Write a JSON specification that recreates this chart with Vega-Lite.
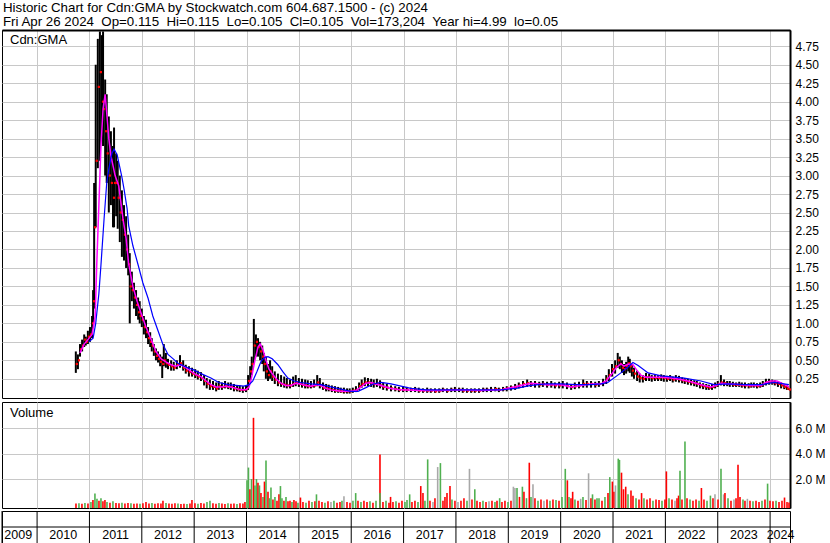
{
"$schema": "https://vega.github.io/schema/vega-lite/v6.json",
"padding": {"left": 1, "top": 0, "right": 0, "bottom": 0},
"background": "white",
"title": {"text": ["Historic Chart for Cdn:GMA by Stockwatch.com 604.687.1500 - (c) 2024", "Fri Apr 26 2024\u00a0 Op=0.115\u00a0 Hi=0.115\u00a0 Lo=0.105\u00a0 Cl=0.105\u00a0 Vol=173,204\u00a0 Year hi=4.99\u00a0 lo=0.05"], "anchor": "start", "frame": "bounds", "fontSize": 13.3, "fontWeight": "normal", "font": "Liberation Sans", "color": "black", "lineHeight": 14.5, "offset": 1, "dx": 2},
"config": {"view": {"stroke": "black", "strokeWidth": 1}, "font": "Liberation Sans", "axis": {"labelFont": "Liberation Sans", "labelColor": "black", "gridColor": "#c8c8c8", "gridOpacity": 1}},
"datasets": {
"px": [
{"t":2010.74,"h":0.62,"l":0.33,"c":0.45},{"t":2010.78,"h":0.58,"l":0.38,"c":0.5},{"t":2010.82,"h":0.72,"l":0.55,"c":0.65},{"t":2010.86,"h":0.78,"l":0.62,"c":0.7},{"t":2010.90,"h":0.85,"l":0.68,"c":0.78},{"t":2010.93,"h":0.82,"l":0.7,"c":0.75},{"t":2010.97,"h":0.9,"l":0.72,"c":0.82},{"t":2011.01,"h":0.95,"l":0.75,"c":0.85},{"t":2011.05,"h":1.1,"l":0.8,"c":1.0},{"t":2011.07,"h":1.45,"l":0.95,"c":1.3},
{"t":2011.09,"h":2.9,"l":1.2,"c":2.3},{"t":2011.12,"h":4.5,"l":2.3,"c":3.2},{"t":2011.16,"h":4.85,"l":3.1,"c":4.2},{"t":2011.20,"h":4.95,"l":3.2,"c":4.4},{"t":2011.24,"h":4.9,"l":3.5,"c":4.0},{"t":2011.26,"h":4.95,"l":3.4,"c":3.9},{"t":2011.30,"h":4.3,"l":3.0,"c":3.6},{"t":2011.33,"h":4.1,"l":2.9,"c":3.3},{"t":2011.37,"h":3.8,"l":2.5,"c":3.0},{"t":2011.41,"h":3.6,"l":2.6,"c":2.9},
{"t":2011.45,"h":3.4,"l":2.3,"c":2.7},{"t":2011.47,"h":3.65,"l":2.3,"c":2.9},{"t":2011.51,"h":3.3,"l":2.45,"c":2.9},{"t":2011.54,"h":3.2,"l":2.28,"c":2.7},{"t":2011.58,"h":3.0,"l":2.1,"c":2.5},{"t":2011.62,"h":2.8,"l":1.9,"c":2.4},{"t":2011.66,"h":2.6,"l":1.85,"c":2.2},{"t":2011.70,"h":2.45,"l":1.75,"c":2.0},{"t":2011.74,"h":2.2,"l":1.65,"c":1.8},{"t":2011.77,"h":1.95,"l":1.0,"c":1.5},
{"t":2011.81,"h":1.7,"l":1.3,"c":1.45},{"t":2011.85,"h":1.55,"l":1.2,"c":1.35},{"t":2011.89,"h":1.45,"l":1.1,"c":1.25},{"t":2011.93,"h":1.35,"l":1.05,"c":1.15},{"t":2011.96,"h":1.3,"l":1.0,"c":1.1},{"t":2012.00,"h":1.2,"l":0.95,"c":1.05},{"t":2012.04,"h":1.1,"l":0.85,"c":0.95},{"t":2012.08,"h":1.05,"l":0.8,"c":0.88},{"t":2012.12,"h":0.95,"l":0.72,"c":0.8},{"t":2012.16,"h":0.88,"l":0.68,"c":0.75},
{"t":2012.19,"h":0.8,"l":0.62,"c":0.7},{"t":2012.23,"h":0.72,"l":0.56,"c":0.62},{"t":2012.27,"h":0.66,"l":0.5,"c":0.56},{"t":2012.31,"h":0.62,"l":0.47,"c":0.52},{"t":2012.35,"h":0.58,"l":0.42,"c":0.48},{"t":2012.39,"h":0.55,"l":0.26,"c":0.45},{"t":2012.42,"h":0.72,"l":0.42,"c":0.5},{"t":2012.46,"h":0.6,"l":0.4,"c":0.46},{"t":2012.50,"h":0.52,"l":0.38,"c":0.44},{"t":2012.56,"h":0.5,"l":0.36,"c":0.42},
{"t":2012.61,"h":0.48,"l":0.36,"c":0.4},{"t":2012.67,"h":0.5,"l":0.38,"c":0.44},{"t":2012.73,"h":0.57,"l":0.4,"c":0.46},{"t":2012.79,"h":0.5,"l":0.36,"c":0.4},{"t":2012.84,"h":0.44,"l":0.32,"c":0.36},{"t":2012.90,"h":0.42,"l":0.28,"c":0.34},{"t":2012.96,"h":0.4,"l":0.28,"c":0.32},{"t":2013.02,"h":0.38,"l":0.26,"c":0.3},{"t":2013.07,"h":0.36,"l":0.24,"c":0.28},{"t":2013.13,"h":0.34,"l":0.22,"c":0.26},
{"t":2013.19,"h":0.3,"l":0.16,"c":0.22},{"t":2013.24,"h":0.26,"l":0.12,"c":0.18},{"t":2013.30,"h":0.24,"l":0.1,"c":0.15},{"t":2013.36,"h":0.22,"l":0.1,"c":0.14},{"t":2013.42,"h":0.2,"l":0.08,"c":0.12},{"t":2013.47,"h":0.22,"l":0.1,"c":0.15},{"t":2013.53,"h":0.2,"l":0.1,"c":0.14},{"t":2013.59,"h":0.22,"l":0.12,"c":0.15},{"t":2013.65,"h":0.2,"l":0.11,"c":0.14},{"t":2013.70,"h":0.2,"l":0.1,"c":0.14},
{"t":2013.76,"h":0.18,"l":0.08,"c":0.12},{"t":2013.82,"h":0.16,"l":0.08,"c":0.11},{"t":2013.87,"h":0.16,"l":0.07,"c":0.1},{"t":2013.93,"h":0.15,"l":0.06,"c":0.1},{"t":2013.99,"h":0.16,"l":0.07,"c":0.11},{"t":2014.03,"h":0.3,"l":0.1,"c":0.22},{"t":2014.07,"h":0.42,"l":0.2,"c":0.35},{"t":2014.10,"h":0.55,"l":0.3,"c":0.45},{"t":2014.14,"h":1.06,"l":0.45,"c":0.7},{"t":2014.18,"h":0.85,"l":0.55,"c":0.75},
{"t":2014.22,"h":0.8,"l":0.55,"c":0.68},{"t":2014.26,"h":0.75,"l":0.5,"c":0.62},{"t":2014.30,"h":0.7,"l":0.45,"c":0.55},{"t":2014.33,"h":0.6,"l":0.35,"c":0.45},{"t":2014.37,"h":0.55,"l":0.25,"c":0.35},{"t":2014.41,"h":0.45,"l":0.22,"c":0.3},{"t":2014.45,"h":0.5,"l":0.25,"c":0.35},{"t":2014.49,"h":0.42,"l":0.22,"c":0.28},{"t":2014.54,"h":0.35,"l":0.18,"c":0.24},{"t":2014.60,"h":0.32,"l":0.15,"c":0.2},
{"t":2014.66,"h":0.3,"l":0.14,"c":0.18},{"t":2014.72,"h":0.28,"l":0.13,"c":0.17},{"t":2014.77,"h":0.26,"l":0.12,"c":0.16},{"t":2014.83,"h":0.24,"l":0.12,"c":0.16},{"t":2014.89,"h":0.28,"l":0.14,"c":0.18},{"t":2014.94,"h":0.3,"l":0.15,"c":0.2},{"t":2015.00,"h":0.26,"l":0.14,"c":0.18},{"t":2015.06,"h":0.25,"l":0.13,"c":0.17},{"t":2015.12,"h":0.24,"l":0.12,"c":0.16},{"t":2015.17,"h":0.23,"l":0.12,"c":0.15},
{"t":2015.23,"h":0.22,"l":0.12,"c":0.15},{"t":2015.29,"h":0.24,"l":0.13,"c":0.16},{"t":2015.35,"h":0.3,"l":0.15,"c":0.2},{"t":2015.40,"h":0.26,"l":0.12,"c":0.16},{"t":2015.46,"h":0.2,"l":0.1,"c":0.13},{"t":2015.52,"h":0.18,"l":0.08,"c":0.12},{"t":2015.57,"h":0.17,"l":0.08,"c":0.11},{"t":2015.63,"h":0.16,"l":0.07,"c":0.1},{"t":2015.69,"h":0.15,"l":0.06,"c":0.09},{"t":2015.75,"h":0.14,"l":0.06,"c":0.09},
{"t":2015.80,"h":0.13,"l":0.06,"c":0.08},{"t":2015.86,"h":0.13,"l":0.05,"c":0.08},{"t":2015.92,"h":0.12,"l":0.05,"c":0.08},{"t":2015.97,"h":0.12,"l":0.05,"c":0.08},{"t":2016.03,"h":0.13,"l":0.06,"c":0.09},{"t":2016.09,"h":0.15,"l":0.07,"c":0.1},{"t":2016.15,"h":0.2,"l":0.1,"c":0.15},{"t":2016.20,"h":0.24,"l":0.13,"c":0.18},{"t":2016.26,"h":0.27,"l":0.15,"c":0.2},{"t":2016.32,"h":0.26,"l":0.15,"c":0.2},
{"t":2016.38,"h":0.25,"l":0.14,"c":0.19},{"t":2016.43,"h":0.24,"l":0.13,"c":0.18},{"t":2016.49,"h":0.25,"l":0.14,"c":0.18},{"t":2016.55,"h":0.23,"l":0.12,"c":0.16},{"t":2016.61,"h":0.2,"l":0.1,"c":0.14},{"t":2016.68,"h":0.18,"l":0.09,"c":0.13},{"t":2016.76,"h":0.16,"l":0.08,"c":0.12},{"t":2016.84,"h":0.15,"l":0.08,"c":0.11},{"t":2016.91,"h":0.14,"l":0.07,"c":0.1},{"t":2016.99,"h":0.15,"l":0.07,"c":0.1},
{"t":2017.06,"h":0.14,"l":0.07,"c":0.1},{"t":2017.14,"h":0.13,"l":0.07,"c":0.1},{"t":2017.22,"h":0.14,"l":0.07,"c":0.1},{"t":2017.29,"h":0.13,"l":0.06,"c":0.09},{"t":2017.37,"h":0.12,"l":0.06,"c":0.09},{"t":2017.45,"h":0.13,"l":0.06,"c":0.09},{"t":2017.52,"h":0.12,"l":0.06,"c":0.09},{"t":2017.60,"h":0.12,"l":0.06,"c":0.08},{"t":2017.68,"h":0.12,"l":0.06,"c":0.09},{"t":2017.75,"h":0.13,"l":0.07,"c":0.1},
{"t":2017.83,"h":0.12,"l":0.06,"c":0.09},{"t":2017.91,"h":0.13,"l":0.07,"c":0.1},{"t":2017.98,"h":0.14,"l":0.07,"c":0.1},{"t":2018.06,"h":0.13,"l":0.07,"c":0.1},{"t":2018.13,"h":0.13,"l":0.06,"c":0.09},{"t":2018.21,"h":0.12,"l":0.06,"c":0.09},{"t":2018.29,"h":0.12,"l":0.06,"c":0.09},{"t":2018.36,"h":0.12,"l":0.06,"c":0.09},{"t":2018.44,"h":0.12,"l":0.06,"c":0.09},{"t":2018.52,"h":0.13,"l":0.07,"c":0.1},
{"t":2018.59,"h":0.13,"l":0.07,"c":0.1},{"t":2018.67,"h":0.14,"l":0.07,"c":0.1},{"t":2018.75,"h":0.14,"l":0.08,"c":0.11},{"t":2018.82,"h":0.13,"l":0.07,"c":0.1},{"t":2018.90,"h":0.14,"l":0.08,"c":0.11},{"t":2018.97,"h":0.15,"l":0.08,"c":0.12},{"t":2019.05,"h":0.16,"l":0.09,"c":0.13},{"t":2019.13,"h":0.18,"l":0.1,"c":0.14},{"t":2019.20,"h":0.2,"l":0.12,"c":0.16},{"t":2019.28,"h":0.22,"l":0.13,"c":0.18},
{"t":2019.36,"h":0.24,"l":0.14,"c":0.19},{"t":2019.43,"h":0.22,"l":0.14,"c":0.18},{"t":2019.51,"h":0.22,"l":0.13,"c":0.18},{"t":2019.59,"h":0.21,"l":0.13,"c":0.17},{"t":2019.66,"h":0.22,"l":0.14,"c":0.18},{"t":2019.74,"h":0.21,"l":0.13,"c":0.17},{"t":2019.82,"h":0.22,"l":0.13,"c":0.17},{"t":2019.89,"h":0.2,"l":0.12,"c":0.16},{"t":2019.97,"h":0.21,"l":0.12,"c":0.16},{"t":2020.04,"h":0.22,"l":0.12,"c":0.17},
{"t":2020.12,"h":0.2,"l":0.11,"c":0.15},{"t":2020.20,"h":0.18,"l":0.1,"c":0.14},{"t":2020.27,"h":0.2,"l":0.11,"c":0.15},{"t":2020.35,"h":0.21,"l":0.12,"c":0.16},{"t":2020.43,"h":0.24,"l":0.13,"c":0.18},{"t":2020.50,"h":0.22,"l":0.13,"c":0.18},{"t":2020.58,"h":0.22,"l":0.13,"c":0.18},{"t":2020.66,"h":0.21,"l":0.13,"c":0.17},{"t":2020.73,"h":0.22,"l":0.14,"c":0.18},{"t":2020.81,"h":0.25,"l":0.15,"c":0.2},
{"t":2020.87,"h":0.3,"l":0.18,"c":0.25},{"t":2020.92,"h":0.38,"l":0.22,"c":0.3},{"t":2020.98,"h":0.45,"l":0.28,"c":0.38},{"t":2021.04,"h":0.5,"l":0.32,"c":0.42},{"t":2021.09,"h":0.6,"l":0.4,"c":0.5},{"t":2021.13,"h":0.55,"l":0.38,"c":0.45},{"t":2021.17,"h":0.5,"l":0.33,"c":0.4},{"t":2021.21,"h":0.45,"l":0.3,"c":0.38},{"t":2021.25,"h":0.48,"l":0.32,"c":0.42},{"t":2021.29,"h":0.55,"l":0.35,"c":0.46},
{"t":2021.32,"h":0.52,"l":0.33,"c":0.42},{"t":2021.36,"h":0.45,"l":0.28,"c":0.36},{"t":2021.40,"h":0.4,"l":0.25,"c":0.32},{"t":2021.46,"h":0.36,"l":0.22,"c":0.28},{"t":2021.51,"h":0.32,"l":0.2,"c":0.26},{"t":2021.57,"h":0.3,"l":0.2,"c":0.25},{"t":2021.63,"h":0.33,"l":0.22,"c":0.27},{"t":2021.69,"h":0.32,"l":0.22,"c":0.27},{"t":2021.74,"h":0.3,"l":0.21,"c":0.26},{"t":2021.80,"h":0.3,"l":0.22,"c":0.26},
{"t":2021.86,"h":0.3,"l":0.22,"c":0.26},{"t":2021.92,"h":0.31,"l":0.22,"c":0.27},{"t":2021.97,"h":0.3,"l":0.21,"c":0.26},{"t":2022.03,"h":0.29,"l":0.21,"c":0.25},{"t":2022.09,"h":0.3,"l":0.22,"c":0.26},{"t":2022.14,"h":0.28,"l":0.2,"c":0.24},{"t":2022.20,"h":0.3,"l":0.21,"c":0.25},{"t":2022.26,"h":0.29,"l":0.2,"c":0.24},{"t":2022.32,"h":0.27,"l":0.19,"c":0.23},{"t":2022.37,"h":0.26,"l":0.18,"c":0.22},
{"t":2022.43,"h":0.25,"l":0.17,"c":0.21},{"t":2022.49,"h":0.24,"l":0.16,"c":0.2},{"t":2022.55,"h":0.23,"l":0.15,"c":0.19},{"t":2022.60,"h":0.22,"l":0.14,"c":0.18},{"t":2022.66,"h":0.2,"l":0.12,"c":0.16},{"t":2022.72,"h":0.19,"l":0.11,"c":0.15},{"t":2022.78,"h":0.18,"l":0.1,"c":0.14},{"t":2022.83,"h":0.17,"l":0.1,"c":0.13},{"t":2022.89,"h":0.18,"l":0.1,"c":0.14},{"t":2022.95,"h":0.2,"l":0.12,"c":0.16},
{"t":2023.00,"h":0.22,"l":0.14,"c":0.18},{"t":2023.06,"h":0.3,"l":0.16,"c":0.2},{"t":2023.12,"h":0.24,"l":0.15,"c":0.19},{"t":2023.18,"h":0.22,"l":0.15,"c":0.18},{"t":2023.23,"h":0.22,"l":0.14,"c":0.18},{"t":2023.29,"h":0.21,"l":0.14,"c":0.17},{"t":2023.35,"h":0.2,"l":0.14,"c":0.17},{"t":2023.41,"h":0.21,"l":0.14,"c":0.17},{"t":2023.46,"h":0.2,"l":0.13,"c":0.16},{"t":2023.52,"h":0.2,"l":0.12,"c":0.16},
{"t":2023.59,"h":0.19,"l":0.12,"c":0.15},{"t":2023.64,"h":0.2,"l":0.13,"c":0.16},{"t":2023.69,"h":0.2,"l":0.13,"c":0.16},{"t":2023.75,"h":0.19,"l":0.12,"c":0.15},{"t":2023.81,"h":0.2,"l":0.13,"c":0.16},{"t":2023.86,"h":0.22,"l":0.14,"c":0.18},{"t":2023.92,"h":0.25,"l":0.16,"c":0.2},{"t":2023.98,"h":0.25,"l":0.17,"c":0.21},{"t":2024.04,"h":0.24,"l":0.17,"c":0.2},{"t":2024.09,"h":0.23,"l":0.16,"c":0.19},
{"t":2024.15,"h":0.22,"l":0.14,"c":0.18},{"t":2024.21,"h":0.2,"l":0.12,"c":0.16},{"t":2024.27,"h":0.18,"l":0.11,"c":0.14},{"t":2024.32,"h":0.16,"l":0.1,"c":0.12},{"t":2024.36,"h":0.115,"l":0.1,"c":0.105}
],
"mg": [
{"t":2010.82,"v":0.6},{"t":2010.90,"v":0.72},{"t":2010.97,"v":0.78},{"t":2011.05,"v":0.85},{"t":2011.11,"v":1.1},{"t":2011.14,"v":1.8},{"t":2011.18,"v":2.6},{"t":2011.22,"v":3.4},{"t":2011.26,"v":3.9},{"t":2011.30,"v":4.1},{"t":2011.33,"v":3.85},{"t":2011.37,"v":3.5},{"t":2011.41,"v":3.27},{"t":2011.49,"v":3.0},{"t":2011.56,"v":2.86},{"t":2011.64,"v":2.42},{"t":2011.70,"v":2.15},{"t":2011.75,"v":1.8},{"t":2011.83,"v":1.5},{"t":2011.91,"v":1.3},{"t":2011.98,"v":1.15},{"t":2012.08,"v":0.95},{"t":2012.18,"v":0.78},{"t":2012.27,"v":0.62},{"t":2012.37,"v":0.52},{"t":2012.46,"v":0.48},{"t":2012.56,"v":0.44},{"t":2012.65,"v":0.42},{"t":2012.75,"v":0.44},{"t":2012.84,"v":0.4},{"t":2012.94,"v":0.35},{"t":2013.03,"v":0.31},{"t":2013.13,"v":0.28},{"t":2013.23,"v":0.22},{"t":2013.32,"v":0.17},{"t":2013.42,"v":0.14},{"t":2013.51,"v":0.14},{"t":2013.61,"v":0.15},{"t":2013.70,"v":0.14},{"t":2013.80,"v":0.12},{"t":2013.89,"v":0.1},{"t":2013.99,"v":0.1},{"t":2014.05,"v":0.14},{"t":2014.10,"v":0.28},{"t":2014.16,"v":0.5},{"t":2014.22,"v":0.68},{"t":2014.26,"v":0.72},{"t":2014.31,"v":0.65},{"t":2014.37,"v":0.5},{"t":2014.43,"v":0.38},{"t":2014.51,"v":0.3},{"t":2014.58,"v":0.24},{"t":2014.66,"v":0.19},{"t":2014.75,"v":0.16},{"t":2014.85,"v":0.16},{"t":2014.94,"v":0.19},{"t":2015.04,"v":0.18},{"t":2015.14,"v":0.16},{"t":2015.23,"v":0.15},{"t":2015.33,"v":0.17},{"t":2015.42,"v":0.16},{"t":2015.52,"v":0.12},{"t":2015.61,"v":0.1},{"t":2015.71,"v":0.09},{"t":2015.80,"v":0.08},{"t":2015.90,"v":0.08},{"t":2015.99,"v":0.08},{"t":2016.09,"v":0.09},{"t":2016.19,"v":0.14},{"t":2016.28,"v":0.19},{"t":2016.38,"v":0.2},{"t":2016.47,"v":0.18},{"t":2016.57,"v":0.16},{"t":2016.76,"v":0.12},{"t":2016.95,"v":0.1},{"t":2017.33,"v":0.09},{"t":2017.71,"v":0.09},{"t":2018.10,"v":0.1},{"t":2018.48,"v":0.09},{"t":2018.86,"v":0.1},{"t":2019.05,"v":0.13},{"t":2019.24,"v":0.16},{"t":2019.43,"v":0.19},{"t":2019.72,"v":0.17},{"t":2020.01,"v":0.17},{"t":2020.20,"v":0.14},{"t":2020.39,"v":0.16},{"t":2020.58,"v":0.18},{"t":2020.77,"v":0.18},{"t":2020.87,"v":0.22},{"t":2020.96,"v":0.3},{"t":2021.06,"v":0.4},{"t":2021.15,"v":0.45},{"t":2021.21,"v":0.42},{"t":2021.29,"v":0.45},{"t":2021.38,"v":0.44},{"t":2021.46,"v":0.36},{"t":2021.53,"v":0.3},{"t":2021.63,"v":0.27},{"t":2021.72,"v":0.27},{"t":2021.92,"v":0.27},{"t":2022.11,"v":0.26},{"t":2022.30,"v":0.24},{"t":2022.49,"v":0.21},{"t":2022.68,"v":0.17},{"t":2022.87,"v":0.14},{"t":2022.97,"v":0.16},{"t":2023.06,"v":0.19},{"t":2023.25,"v":0.18},{"t":2023.44,"v":0.17},{"t":2023.64,"v":0.16},{"t":2023.83,"v":0.16},{"t":2023.92,"v":0.2},{"t":2024.02,"v":0.22},{"t":2024.13,"v":0.22},{"t":2024.25,"v":0.18},{"t":2024.36,"v":0.14}
],
"bl": [
{"t":2010.99,"v":0.75},{"t":2011.07,"v":0.8},{"t":2011.12,"v":1.0},{"t":2011.18,"v":1.4},{"t":2011.22,"v":1.79},{"t":2011.28,"v":2.42},{"t":2011.33,"v":2.9},{"t":2011.37,"v":3.09},{"t":2011.43,"v":3.3},{"t":2011.47,"v":3.36},{"t":2011.53,"v":3.28},{"t":2011.56,"v":3.18},{"t":2011.62,"v":2.98},{"t":2011.66,"v":2.82},{"t":2011.72,"v":2.55},{"t":2011.75,"v":2.32},{"t":2011.83,"v":2.05},{"t":2011.93,"v":1.79},{"t":2012.02,"v":1.55},{"t":2012.12,"v":1.34},{"t":2012.21,"v":1.1},{"t":2012.31,"v":0.9},{"t":2012.40,"v":0.72},{"t":2012.50,"v":0.58},{"t":2012.60,"v":0.52},{"t":2012.69,"v":0.46},{"t":2012.84,"v":0.41},{"t":2012.99,"v":0.37},{"t":2013.13,"v":0.32},{"t":2013.32,"v":0.26},{"t":2013.47,"v":0.2},{"t":2013.65,"v":0.17},{"t":2013.80,"v":0.16},{"t":2013.95,"v":0.15},{"t":2014.05,"v":0.17},{"t":2014.12,"v":0.22},{"t":2014.20,"v":0.35},{"t":2014.28,"v":0.49},{"t":2014.35,"v":0.54},{"t":2014.41,"v":0.55},{"t":2014.49,"v":0.52},{"t":2014.60,"v":0.44},{"t":2014.70,"v":0.34},{"t":2014.79,"v":0.26},{"t":2014.91,"v":0.22},{"t":2015.04,"v":0.2},{"t":2015.23,"v":0.18},{"t":2015.42,"v":0.17},{"t":2015.61,"v":0.14},{"t":2015.80,"v":0.11},{"t":2015.99,"v":0.08},{"t":2016.13,"v":0.08},{"t":2016.28,"v":0.13},{"t":2016.42,"v":0.18},{"t":2016.57,"v":0.2},{"t":2016.76,"v":0.18},{"t":2016.95,"v":0.15},{"t":2017.14,"v":0.12},{"t":2017.43,"v":0.1},{"t":2017.71,"v":0.1},{"t":2018.10,"v":0.1},{"t":2018.48,"v":0.1},{"t":2018.86,"v":0.1},{"t":2019.15,"v":0.12},{"t":2019.43,"v":0.16},{"t":2019.72,"v":0.18},{"t":2020.01,"v":0.18},{"t":2020.29,"v":0.17},{"t":2020.58,"v":0.17},{"t":2020.77,"v":0.18},{"t":2020.90,"v":0.2},{"t":2021.15,"v":0.33},{"t":2021.27,"v":0.4},{"t":2021.38,"v":0.47},{"t":2021.48,"v":0.43},{"t":2021.67,"v":0.33},{"t":2021.92,"v":0.29},{"t":2022.36,"v":0.26},{"t":2022.68,"v":0.22},{"t":2022.93,"v":0.17},{"t":2023.20,"v":0.18},{"t":2023.54,"v":0.17},{"t":2023.83,"v":0.17},{"t":2024.07,"v":0.2},{"t":2024.36,"v":0.17}
],
"vol": [
{"t":2010.743,"v":0.08,"k":"d"},{"t":2010.800,"v":0.1,"k":"u"},{"t":2010.857,"v":0.06,"k":"d"},{"t":2010.914,"v":0.12,"k":"u"},{"t":2010.972,"v":0.08,"k":"d"},{"t":2011.029,"v":0.2,"k":"u"},{"t":2011.067,"v":0.35,"k":"d"},{"t":2011.105,"v":0.86,"k":"u"},{"t":2011.144,"v":0.45,"k":"u"},{"t":2011.182,"v":0.3,"k":"d"},{"t":2011.220,"v":0.5,"k":"u"},{"t":2011.258,"v":0.25,"k":"d"},{"t":2011.296,"v":0.35,"k":"d"},{"t":2011.335,"v":0.2,"k":"u"},{"t":2011.392,"v":0.15,"k":"d"},{"t":2011.449,"v":0.25,"k":"u"},{"t":2011.507,"v":0.12,"k":"d"},{"t":2011.564,"v":0.1,"k":"d"},{"t":2011.621,"v":0.15,"k":"u"},{"t":2011.678,"v":0.08,"k":"d"},{"t":2011.736,"v":0.12,"k":"d"},{"t":2011.793,"v":0.1,"k":"u"},{"t":2011.850,"v":0.07,"k":"d"},{"t":2011.908,"v":0.08,"k":"d"},{"t":2011.965,"v":0.06,"k":"u"},{"t":2012.022,"v":0.1,"k":"d"},{"t":2012.080,"v":0.2,"k":"d"},{"t":2012.137,"v":0.08,"k":"d"},{"t":2012.194,"v":0.12,"k":"u"},{"t":2012.251,"v":0.06,"k":"d"},{"t":2012.309,"v":0.1,"k":"d"},{"t":2012.366,"v":0.08,"k":"d"},{"t":2012.404,"v":0.3,"k":"d"},{"t":2012.462,"v":0.12,"k":"u"},{"t":2012.519,"v":0.08,"k":"d"},{"t":2012.576,"v":0.06,"k":"d"},{"t":2012.633,"v":0.1,"k":"d"},{"t":2012.691,"v":0.08,"k":"u"},{"t":2012.748,"v":0.05,"k":"d"},{"t":2012.805,"v":0.07,"k":"d"},{"t":2012.863,"v":0.05,"k":"u"},{"t":2012.920,"v":0.08,"k":"d"},{"t":2012.958,"v":0.35,"k":"d"},{"t":2013.015,"v":0.1,"k":"d"},{"t":2013.073,"v":0.06,"k":"u"},{"t":2013.130,"v":0.12,"k":"d"},{"t":2013.187,"v":0.08,"k":"d"},{"t":2013.245,"v":0.2,"k":"u"},{"t":2013.302,"v":0.3,"k":"u"},{"t":2013.359,"v":0.1,"k":"d"},{"t":2013.417,"v":0.06,"k":"d"},{"t":2013.474,"v":0.12,"k":"u"},{"t":2013.531,"v":0.08,"k":"d"},{"t":2013.588,"v":0.05,"k":"d"},{"t":2013.646,"v":0.1,"k":"u"},{"t":2013.703,"v":0.06,"k":"d"},{"t":2013.760,"v":0.08,"k":"d"},{"t":2013.818,"v":0.05,"k":"u"},{"t":2013.875,"v":0.1,"k":"d"},{"t":2013.932,"v":0.08,"k":"d"},{"t":2013.970,"v":0.2,"k":"d"},
{"t":2014.009,"v":1.9,"k":"u"},{"t":2014.037,"v":2.9,"k":"u"},{"t":2014.066,"v":1.2,"k":"d"},{"t":2014.095,"v":2.0,"k":"u"},{"t":2014.133,"v":6.8,"k":"d"},{"t":2014.161,"v":1.5,"k":"u"},{"t":2014.190,"v":2.0,"k":"u"},{"t":2014.219,"v":1.7,"k":"d"},{"t":2014.247,"v":1.5,"k":"u"},{"t":2014.276,"v":0.9,"k":"d"},{"t":2014.314,"v":0.6,"k":"u"},{"t":2014.343,"v":1.8,"k":"d"},{"t":2014.372,"v":3.46,"k":"u"},{"t":2014.410,"v":1.0,"k":"d"},{"t":2014.438,"v":0.5,"k":"u"},{"t":2014.467,"v":1.33,"k":"u"},{"t":2014.505,"v":0.4,"k":"d"},{"t":2014.543,"v":0.6,"k":"u"},{"t":2014.582,"v":0.3,"k":"d"},{"t":2014.620,"v":0.8,"k":"d"},{"t":2014.648,"v":1.45,"k":"u"},{"t":2014.677,"v":0.5,"k":"u"},{"t":2014.715,"v":0.3,"k":"d"},{"t":2014.754,"v":0.6,"k":"u"},{"t":2014.792,"v":0.25,"k":"d"},{"t":2014.830,"v":0.3,"k":"d"},{"t":2014.868,"v":0.2,"k":"u"},{"t":2014.906,"v":0.35,"k":"d"},{"t":2014.945,"v":0.25,"k":"d"},{"t":2014.983,"v":0.15,"k":"u"},
{"t":2015.030,"v":0.55,"k":"d"},{"t":2015.078,"v":0.2,"k":"d"},{"t":2015.136,"v":0.15,"k":"u"},{"t":2015.193,"v":0.3,"k":"d"},{"t":2015.250,"v":0.2,"k":"u"},{"t":2015.307,"v":0.25,"k":"d"},{"t":2015.336,"v":0.8,"k":"u"},{"t":2015.384,"v":0.3,"k":"d"},{"t":2015.441,"v":0.2,"k":"d"},{"t":2015.498,"v":0.15,"k":"u"},{"t":2015.556,"v":0.25,"k":"d"},{"t":2015.613,"v":0.2,"k":"n"},{"t":2015.670,"v":0.3,"k":"u"},{"t":2015.728,"v":0.15,"k":"d"},{"t":2015.785,"v":0.2,"k":"d"},{"t":2015.823,"v":0.3,"k":"u"},{"t":2015.861,"v":0.65,"k":"n"},{"t":2015.919,"v":0.2,"k":"d"},{"t":2015.976,"v":0.15,"k":"d"},{"t":2016.033,"v":0.3,"k":"u"},{"t":2016.085,"v":0.9,"k":"u"},{"t":2016.129,"v":0.3,"k":"d"},{"t":2016.186,"v":0.2,"k":"u"},{"t":2016.243,"v":0.3,"k":"d"},{"t":2016.301,"v":0.2,"k":"d"},{"t":2016.358,"v":0.25,"k":"u"},{"t":2016.415,"v":0.15,"k":"d"},{"t":2016.473,"v":0.3,"k":"u"},{"t":2016.549,"v":3.93,"k":"d"},{"t":2016.549,"v":0.9,"k":"u"},{"t":2016.606,"v":0.2,"k":"d"},{"t":2016.664,"v":0.3,"k":"u"},{"t":2016.721,"v":0.15,"k":"d"},{"t":2016.751,"v":0.6,"k":"d"},{"t":2016.797,"v":0.2,"k":"d"},{"t":2016.855,"v":0.25,"k":"u"},{"t":2016.912,"v":0.15,"k":"d"},{"t":2016.969,"v":0.3,"k":"d"},
{"t":2017.026,"v":0.2,"k":"u"},{"t":2017.065,"v":0.35,"k":"u"},{"t":2017.116,"v":0.8,"k":"u"},{"t":2017.160,"v":0.2,"k":"d"},{"t":2017.217,"v":0.3,"k":"d"},{"t":2017.275,"v":0.2,"k":"u"},{"t":2017.328,"v":1.45,"k":"d"},{"t":2017.370,"v":0.9,"k":"d"},{"t":2017.408,"v":0.3,"k":"u"},{"t":2017.460,"v":3.54,"k":"u"},{"t":2017.504,"v":0.3,"k":"d"},{"t":2017.561,"v":0.2,"k":"n"},{"t":2017.599,"v":0.5,"k":"d"},{"t":2017.651,"v":2.94,"k":"n"},{"t":2017.703,"v":3.25,"k":"u"},{"t":2017.752,"v":0.3,"k":"d"},{"t":2017.790,"v":0.6,"k":"d"},{"t":2017.829,"v":0.9,"k":"d"},{"t":2017.886,"v":1.45,"k":"d"},{"t":2017.924,"v":0.4,"k":"u"},{"t":2017.981,"v":0.3,"k":"d"},
{"t":2018.039,"v":0.2,"k":"n"},{"t":2018.096,"v":0.3,"k":"d"},{"t":2018.153,"v":0.5,"k":"d"},{"t":2018.211,"v":0.3,"k":"u"},{"t":2018.258,"v":2.8,"k":"n"},{"t":2018.306,"v":0.4,"k":"d"},{"t":2018.360,"v":1.2,"k":"u"},{"t":2018.402,"v":0.3,"k":"d"},{"t":2018.459,"v":0.2,"k":"d"},{"t":2018.516,"v":0.3,"k":"u"},{"t":2018.574,"v":0.2,"k":"d"},{"t":2018.631,"v":0.25,"k":"n"},{"t":2018.688,"v":0.3,"k":"d"},{"t":2018.745,"v":0.2,"k":"u"},{"t":2018.784,"v":0.3,"k":"d"},{"t":2018.835,"v":0.5,"k":"u"},{"t":2018.879,"v":0.2,"k":"d"},{"t":2018.936,"v":0.3,"k":"d"},{"t":2018.994,"v":0.2,"k":"u"},
{"t":2019.051,"v":0.3,"k":"d"},{"t":2019.097,"v":1.4,"k":"n"},{"t":2019.127,"v":1.3,"k":"n"},{"t":2019.166,"v":1.3,"k":"u"},{"t":2019.213,"v":0.6,"k":"d"},{"t":2019.269,"v":1.4,"k":"u"},{"t":2019.299,"v":1.0,"k":"d"},{"t":2019.347,"v":0.5,"k":"u"},{"t":2019.401,"v":3.28,"k":"d"},{"t":2019.433,"v":0.6,"k":"u"},{"t":2019.471,"v":1.6,"k":"n"},{"t":2019.509,"v":0.5,"k":"d"},{"t":2019.567,"v":0.3,"k":"u"},{"t":2019.624,"v":0.4,"k":"d"},{"t":2019.681,"v":0.3,"k":"n"},{"t":2019.739,"v":0.4,"k":"d"},{"t":2019.796,"v":0.3,"k":"u"},{"t":2019.853,"v":0.4,"k":"d"},{"t":2019.911,"v":0.35,"k":"u"},{"t":2019.968,"v":0.3,"k":"d"},
{"t":2020.025,"v":0.6,"k":"u"},{"t":2020.088,"v":2.8,"k":"u"},{"t":2020.128,"v":1.9,"k":"d"},{"t":2020.159,"v":0.6,"k":"u"},{"t":2020.197,"v":0.5,"k":"d"},{"t":2020.229,"v":1.0,"k":"d"},{"t":2020.273,"v":0.4,"k":"u"},{"t":2020.331,"v":0.3,"k":"d"},{"t":2020.382,"v":0.45,"k":"n"},{"t":2020.426,"v":0.6,"k":"u"},{"t":2020.484,"v":0.35,"k":"d"},{"t":2020.533,"v":2.45,"k":"n"},{"t":2020.579,"v":0.5,"k":"d"},{"t":2020.608,"v":0.8,"k":"u"},{"t":2020.655,"v":0.4,"k":"d"},{"t":2020.694,"v":0.5,"k":"u"},{"t":2020.732,"v":0.5,"k":"u"},{"t":2020.789,"v":0.3,"k":"d"},{"t":2020.846,"v":0.6,"k":"u"},{"t":2020.904,"v":0.9,"k":"d"},{"t":2020.938,"v":2.15,"k":"u"},{"t":2020.988,"v":1.8,"k":"d"},
{"t":2021.018,"v":1.0,"k":"d"},{"t":2021.047,"v":1.5,"k":"n"},{"t":2021.100,"v":3.6,"k":"u"},{"t":2021.123,"v":3.5,"k":"u"},{"t":2021.162,"v":2.5,"k":"d"},{"t":2021.200,"v":1.2,"k":"d"},{"t":2021.242,"v":1.4,"k":"d"},{"t":2021.286,"v":0.8,"k":"u"},{"t":2021.343,"v":1.1,"k":"d"},{"t":2021.381,"v":0.7,"k":"d"},{"t":2021.439,"v":0.5,"k":"u"},{"t":2021.496,"v":0.4,"k":"d"},{"t":2021.545,"v":0.9,"k":"d"},{"t":2021.591,"v":0.5,"k":"u"},{"t":2021.649,"v":0.4,"k":"d"},{"t":2021.706,"v":0.5,"k":"d"},{"t":2021.763,"v":0.3,"k":"u"},{"t":2021.821,"v":0.4,"k":"d"},{"t":2021.878,"v":0.35,"k":"d"},{"t":2021.935,"v":0.3,"k":"u"},{"t":2021.992,"v":0.4,"k":"d"},
{"t":2022.019,"v":2.6,"k":"d"},{"t":2022.069,"v":0.5,"k":"u"},{"t":2022.126,"v":0.4,"k":"d"},{"t":2022.183,"v":0.3,"k":"n"},{"t":2022.222,"v":0.5,"k":"d"},{"t":2022.252,"v":0.7,"k":"d"},{"t":2022.279,"v":2.66,"k":"u"},{"t":2022.317,"v":0.4,"k":"d"},{"t":2022.374,"v":4.95,"k":"u"},{"t":2022.413,"v":0.5,"k":"d"},{"t":2022.470,"v":0.4,"k":"u"},{"t":2022.527,"v":0.3,"k":"d"},{"t":2022.585,"v":0.4,"k":"d"},{"t":2022.642,"v":0.3,"k":"u"},{"t":2022.688,"v":1.3,"k":"d"},{"t":2022.737,"v":0.4,"k":"d"},{"t":2022.795,"v":0.3,"k":"u"},{"t":2022.860,"v":0.7,"k":"u"},{"t":2022.909,"v":0.5,"k":"d"},{"t":2022.947,"v":0.8,"k":"n"},
{"t":2023.005,"v":0.4,"k":"d"},{"t":2023.062,"v":2.8,"k":"u"},{"t":2023.112,"v":0.8,"k":"n"},{"t":2023.138,"v":0.9,"k":"d"},{"t":2023.196,"v":0.5,"k":"u"},{"t":2023.253,"v":0.3,"k":"d"},{"t":2023.310,"v":0.4,"k":"n"},{"t":2023.349,"v":0.5,"k":"d"},{"t":2023.387,"v":3.12,"k":"d"},{"t":2023.425,"v":0.6,"k":"d"},{"t":2023.482,"v":0.4,"k":"u"},{"t":2023.520,"v":0.3,"k":"d"},{"t":2023.566,"v":0.45,"k":"n"},{"t":2023.616,"v":0.3,"k":"d"},{"t":2023.673,"v":0.25,"k":"u"},{"t":2023.731,"v":0.3,"k":"d"},{"t":2023.788,"v":0.2,"k":"d"},{"t":2023.845,"v":0.3,"k":"u"},{"t":2023.902,"v":0.4,"k":"d"},{"t":2023.952,"v":1.64,"k":"u"},{"t":2023.998,"v":0.3,"k":"d"},
{"t":2024.055,"v":0.25,"k":"d"},{"t":2024.113,"v":0.3,"k":"u"},{"t":2024.170,"v":0.2,"k":"d"},{"t":2024.227,"v":0.3,"k":"d"},{"t":2024.275,"v":0.55,"k":"d"},{"t":2024.323,"v":0.2,"k":"d"},{"t":2024.361,"v":0.17,"k":"d"}
],
"yrs": [
{"yr":"2009","c":2009.64,"s":2009.33},{"yr":"2010","c":2010.5,"s":2010},{"yr":"2011","c":2011.5,"s":2011},{"yr":"2012","c":2012.5,"s":2012},{"yr":"2013","c":2013.5,"s":2013},{"yr":"2014","c":2014.5,"s":2014},{"yr":"2015","c":2015.5,"s":2015},{"yr":"2016","c":2016.5,"s":2016},{"yr":"2017","c":2017.5,"s":2017},{"yr":"2018","c":2018.5,"s":2018},{"yr":"2019","c":2019.5,"s":2019},{"yr":"2020","c":2020.5,"s":2020},{"yr":"2021","c":2021.5,"s":2021},{"yr":"2022","c":2022.5,"s":2022},{"yr":"2023","c":2023.5,"s":2023},{"yr":"2024","c":2024.2,"s":2024}
]
},
"spacing": 2,
"vconcat": [
{
"width": 788, "height": 368,
"resolve": {"axis": {"x": "independent", "y": "independent"}},
"layer": [
{"data": {"name": "px"}, "mark": {"type": "rule", "color": "black", "strokeWidth": 2},
 "encoding": {
  "x": {"field": "t", "type": "quantitative", "scale": {"domain": [2009.33, 2024.38], "nice": false, "zero": false}, "axis": {"orient": "top", "values": [2010,2011,2012,2013,2014,2015,2016,2017,2018,2019,2020,2021,2022,2023,2024], "labels": false, "ticks": false, "domain": true, "domainColor": "black", "domainWidth": 2, "title": null, "grid": true}},
  "y": {"field": "l", "type": "quantitative", "scale": {"domain": [-0.01, 4.97], "nice": false, "zero": false}, "axis": {"orient": "right", "values": [0.25,0.5,0.75,1,1.25,1.5,1.75,2,2.25,2.5,2.75,3,3.25,3.5,3.75,4,4.25,4.5,4.75], "format": ".2f", "ticks": false, "domain": true, "domainColor": "black", "domainWidth": 2, "title": null, "grid": true, "labelPadding": 5, "labelFontSize": 12}},
  "y2": {"field": "h"}}},
{"data": {"name": "px"}, "mark": {"type": "square", "color": "#ff0000", "size": 5, "opacity": 1, "xOffset": 1},
 "encoding": {"x": {"field": "t", "type": "quantitative", "axis": null}, "y": {"field": "c", "type": "quantitative", "axis": null}}},
{"data": {"name": "mg"}, "mark": {"type": "line", "color": "#ff00ff", "strokeWidth": 1.5},
 "encoding": {"x": {"field": "t", "type": "quantitative", "axis": null}, "y": {"field": "v", "type": "quantitative", "axis": null}}},
{"data": {"name": "bl"}, "mark": {"type": "line", "color": "#0000ff", "strokeWidth": 1.2},
 "encoding": {"x": {"field": "t", "type": "quantitative", "axis": null}, "y": {"field": "v", "type": "quantitative", "axis": null}}},
{"data": {"values": [{"lbl": "Cdn:GMA"}]}, "mark": {"type": "text", "font": "Liberation Sans", "fontSize": 13, "align": "left", "baseline": "alphabetic", "dx": 8, "dy": 13.5, "color": "black"},
 "encoding": {"x": {"datum": 2009.33, "axis": null}, "y": {"datum": 4.97, "axis": null}, "text": {"field": "lbl"}}}
]
},
{
"spacing": 0,
"vconcat": [
{
"width": 788, "height": 106,
"resolve": {"axis": {"x": "independent", "y": "independent"}},
"layer": [
{"data": {"name": "vol"}, "mark": {"type": "rule", "strokeWidth": 1.6},
 "encoding": {
  "x": {"field": "t", "type": "quantitative", "scale": {"domain": [2009.33, 2024.38], "nice": false, "zero": false}, "axis": {"orient": "top", "values": [2010,2011,2012,2013,2014,2015,2016,2017,2018,2019,2020,2021,2022,2023,2024], "labels": false, "ticks": false, "domain": false, "title": null, "grid": true}},
  "y": {"field": "v", "type": "quantitative", "scale": {"domain": [-0.27, 8.04], "nice": false, "zero": false}, "axis": {"orient": "right", "values": [2, 4, 6], "labelExpr": "format(datum.value, '.1f') + ' M'", "ticks": false, "domain": true, "domainColor": "black", "domainWidth": 2, "title": null, "grid": true, "labelPadding": 5, "labelFontSize": 12}},
  "y2": {"datum": -0.27},
  "color": {"field": "k", "type": "nominal", "scale": {"domain": ["d", "u", "n"], "range": ["#ff0000", "#50b050", "#a8a8a8"]}, "legend": null}}},
{"data": {"values": [{"lbl": "Volume"}]}, "mark": {"type": "text", "font": "Liberation Sans", "fontSize": 13, "align": "left", "baseline": "alphabetic", "dx": 8, "dy": 14.7, "color": "black"},
 "encoding": {"x": {"datum": 2009.33, "axis": null}, "y": {"datum": 8.04, "axis": null}, "text": {"field": "lbl"}}}
]
},
{
"width": 788, "height": 32,
"layer": [
{"data": {"name": "yrs"}, "mark": {"type": "rule", "color": "black", "strokeWidth": 1},
 "encoding": {"x": {"field": "s", "type": "quantitative", "scale": {"domain": [2009.33, 2024.38], "nice": false, "zero": false}, "axis": null}}},
{"data": {"values": [{"a": 1}]}, "mark": {"type": "rule", "color": "black", "strokeWidth": 1},
 "encoding": {"y": {"datum": 1, "scale": {"domain": [0, 2], "nice": false, "zero": false}, "axis": null}}},
{"data": {"name": "yrs"}, "mark": {"type": "text", "font": "Liberation Sans", "fontSize": 12.5, "align": "center", "baseline": "middle", "color": "black"},
 "encoding": {"x": {"field": "c", "type": "quantitative", "axis": null}, "y": {"datum": 0.47, "axis": null}, "text": {"field": "yr"}}}
]
}
]
}
]
}
